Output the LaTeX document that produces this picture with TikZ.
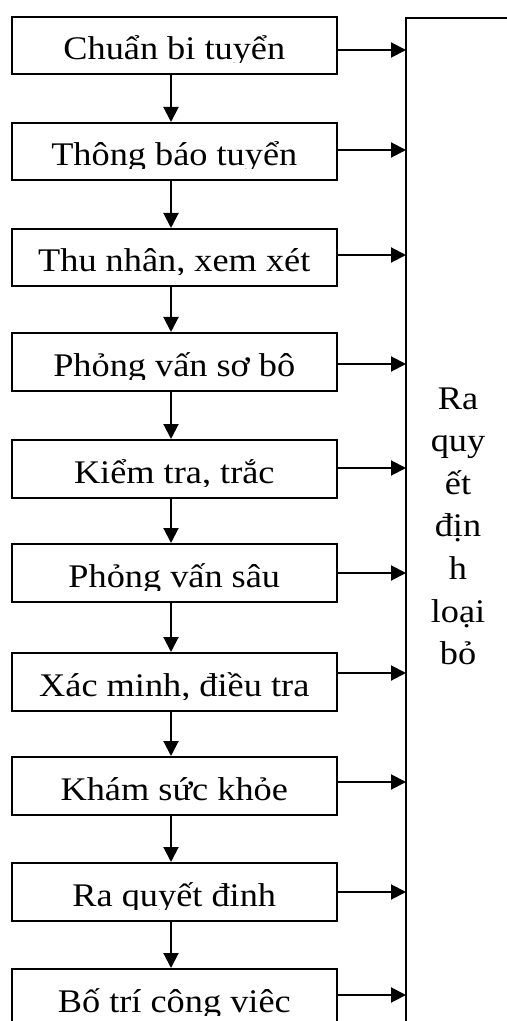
\documentclass[tikz,border=0pt]{standalone}
\usepackage{fontspec}
\setmainfont[FakeStretch=1.1]{Liberation Serif}
\usetikzlibrary{arrows.meta}
\newcommand{\flowbox}[3]{%
  \node[box] (b#1) at (174.3,{#2+28.75}) {};
  \begin{scope}
    \clip (12,#2) rectangle (337,{#2+46});
    \node[lbl,anchor=base] (t#1) at (174.3,{#2+43}) {#3};
  \end{scope}}
\begin{document}
\begin{tikzpicture}[x=0.5pt,y=-0.5pt,
  box/.style={draw,line width=1pt,minimum width=162.3pt,minimum height=28.75pt,inner sep=0pt},
  lbl/.style={inner sep=0pt,font=\fontsize{16.5}{20}\selectfont},
  arr/.style={line width=1pt,-{Triangle[length=7.5pt,width=7.5pt]}},
  edge/.style={line width=1pt}]
\clip (0,0) rectangle (507,1021);
\flowbox{1}{17}{Chuẩn bi tuyển}
\flowbox{2}{123}{Thông báo tuyển}
\flowbox{3}{229}{Thu nhân, xem xét}
\flowbox{4}{333}{Phỏng vấn sơ bô}
\flowbox{5}{440}{Kiểm tra, trắc}
\flowbox{6}{544}{Phỏng vấn sâu}
\flowbox{7}{653}{Xác minh, điều tra}
\flowbox{8}{757}{Khám sức khỏe}
\flowbox{9}{863}{Ra quyết đinh}
\flowbox{10}{969}{Bố trí công viêc}
\coordinate (vx) at (171,0);
\coordinate (rb) at (406,18);
\coordinate (rbb) at (406,1030);
\coordinate (rbr) at (520,18);
\draw[edge] (rbb) -- (rb) -- (rbr);
\foreach \i in {1,...,9}{
  \pgfmathtruncatemacro{\j}{\i+1}
  \draw[arr] (b\i.south -| vx) -- (b\j.north -| vx);
}
\foreach \i/\y in {1/50,2/150,3/255,4/364,5/468,6/573,7/673,8/782,9/892,10/995}{
  \draw[arr] (b\i.east |- 0,\y) -- (rb |- 0,\y);
}
\foreach \s [count=\k from 0] in {Ra,quy,ết,địn,h,loại,bỏ}{
  \node[lbl,anchor=base] (r\k) at (458,{409+42.6*\k}) {\s};
}
\end{tikzpicture}
\end{document}
